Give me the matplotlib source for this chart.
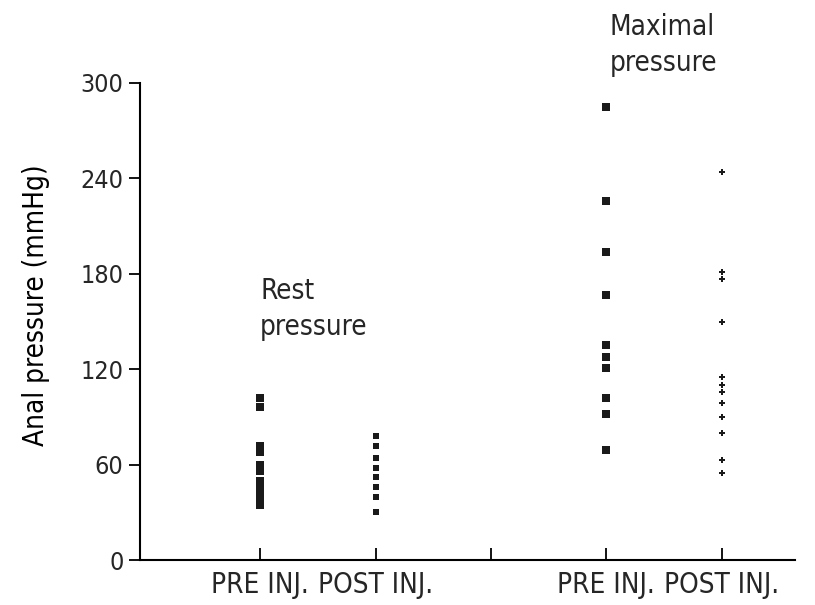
import matplotlib.pyplot as plt

plt.rcParams['font.family'] = ['DejaVu Sans']
plt.rcParams['font.stretch'] = 'condensed'
plt.rcParams['text.color'] = '#262626'

# values (mmHg)
rest_pre = [102, 96, 72, 68, 60, 56, 50, 45, 40, 37, 35]
rest_post = [78, 72, 64, 58, 52, 46, 40, 30]
max_pre = [285, 226, 194, 167, 135, 128, 121, 102, 92, 69]
max_post = [244, 181, 177, 150, 115, 110, 106, 99, 90, 80, 63, 55]

tick_pos = [1, 2, 3, 4, 5]
tick_labels = ["PRE INJ.", "POST INJ.", "", "PRE INJ.", "POST INJ."]
y_ticks = [0, 60, 120, 180, 240, 300]

fig = plt.figure(figsize=(8.15, 6.05), dpi=100)
ax = fig.add_axes([0.172, 0.074, 0.804, 0.789])

col = '#1a1a1a'
ax.scatter([1] * len(rest_pre), rest_pre, marker='s', s=38, color=col, linewidths=0)
ax.scatter([2] * len(rest_post), rest_post, marker='s', s=14, color=col, linewidths=0)
ax.scatter([4] * len(max_pre), max_pre, marker='s', s=38, color=col, linewidths=0)
ax.scatter([5] * len(max_post), max_post, marker='P', s=20, color=col, linewidths=0)

ax.set_xlim(-0.04, 5.64)
ax.set_ylim(0, 300)
ax.spines['top'].set_visible(False)
ax.spines['right'].set_visible(False)
ax.spines['left'].set_linewidth(1.5)
ax.spines['bottom'].set_linewidth(1.5)

ax.set_yticks(y_ticks)
ax.set_xticks(tick_pos)
ax.set_xticklabels(tick_labels)
ax.tick_params(axis='y', direction='out', length=8, width=1.3, labelsize=18, pad=4,
               labelcolor='#262626')
ax.tick_params(axis='x', direction='in', length=9, width=1.3, labelsize=20, pad=8,
               labelcolor='#262626')
ax.set_ylabel("Anal pressure (mmHg)", fontsize=20)
ax.yaxis.set_label_coords(-0.138, 0.535)

ax.text(1, 178, "Rest\npressure", fontsize=20, ha='left', va='top', linespacing=1.35)
ax.text(4.03, 344, "Maximal\npressure", fontsize=20, ha='left', va='top',
        linespacing=1.35, clip_on=False)

fig.savefig("out.png", dpi=100)
